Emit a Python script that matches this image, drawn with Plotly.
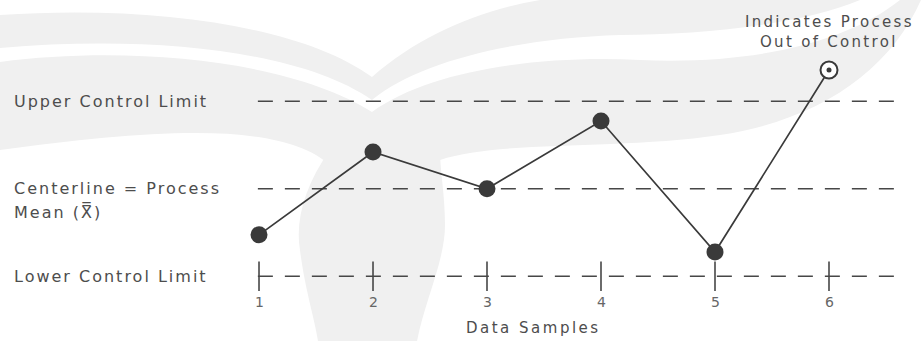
import plotly.graph_objects as go

# ---------------- data ----------------
samples = [1, 2, 3, 4, 5, 6]
sample_labels = ["1", "2", "3", "4", "5", "6"]
sample_means = [8.42, 11.26, 10.0, 12.32, 7.83, 14.07]

ucl = 13.0
center_line = 10.0
lcl = 7.0
limit_values = [ucl, center_line, lcl]
limit_labels = ["Upper Control Limit",
                "Centerline = Process<br>Mean (X\u033f)",
                "Lower Control Limit"]
x_title = "Data Samples"
out_note = "Indicates Process<br>Out of Control"

# ---------------- style ----------------
W, H = 921, 341
INK = "#3a3a3a"
DASH = "#474747"
TXT = "#4d4d4d"
FONT = "DejaVu Sans"
WM = "#f0f0f0"

line_x0, line_x1 = 0.99, 6.67        # extent of the dashed limit lines (axis units)


def spaced(text, px):
    return f'<span style="letter-spacing:{px}px">{text}</span>'


fig = go.Figure()

# watermark (background decoration, pixel coords -> paper coords)
def path(cmds):
    out = []
    for c, pts in cmds:
        if c == "Z":
            out.append("Z")
            continue
        coords = " ".join(f"{x / W:.4f},{1 - y / H:.4f}" for x, y in pts)
        out.append(f"{c} {coords}")
    return " ".join(out)

wm_upper = path([
    ("M", [(0, 15)]),
    ("C", [(150, 5), (300, 25), (372, 77)]),
    ("C", [(420, 35), (480, 10), (540, 0)]),
    ("L", [(860, 0)]),
    ("C", [(800, 25), (700, 35), (620, 35)]),
    ("C", [(520, 38), (420, 60), (372, 100)]),
    ("C", [(300, 50), (150, 35), (0, 48)]),
    ("Z", []),
])
wm_lower = path([
    ("M", [(0, 62)]),
    ("C", [(130, 45), (290, 60), (372, 112)]),
    ("C", [(430, 70), (540, 55), (640, 60)]),
    ("C", [(760, 65), (850, 40), (900, 0)]),
    ("L", [(921, 0), (921, 20)]),
    ("C", [(890, 70), (820, 120), (720, 135)]),
    ("C", [(620, 150), (500, 140), (440, 160)]),
    ("L", [(330, 165)]),
    ("C", [(280, 120), (150, 130), (0, 150)]),
    ("Z", []),
])
wm_bulb = path([
    ("M", [(330, 150)]),
    ("C", [(305, 185), (295, 220), (300, 250)]),
    ("C", [(305, 290), (315, 320), (318, 341)]),
    ("L", [(417, 341)]),
    ("C", [(425, 300), (445, 260), (445, 225)]),
    ("C", [(445, 195), (440, 170), (440, 150)]),
    ("Z", []),
])
for p in (wm_upper, wm_lower, wm_bulb):
    fig.add_shape(type="path", path=p, xref="paper", yref="paper",
                  fillcolor=WM, line=dict(width=0), layer="below")

# dashed limit lines
for v in limit_values:
    fig.add_trace(go.Scatter(x=[line_x0, line_x1], y=[v, v], mode="lines",
                             line=dict(color=DASH, width=1.6, dash="15px,12px"),
                             hoverinfo="skip", showlegend=False))

# tick crosses on the lower control limit
fig.add_trace(go.Scatter(x=samples, y=[lcl] * len(samples), mode="markers",
                         marker=dict(symbol="line-ns", size=21,
                                     line=dict(color=DASH, width=1.6)),
                         hoverinfo="skip", showlegend=False))

# data line
fig.add_trace(go.Scatter(x=samples, y=sample_means, mode="lines",
                         line=dict(color=INK, width=1.7),
                         hoverinfo="skip", showlegend=False))

in_x = [x for x, v in zip(samples, sample_means) if lcl <= v <= ucl]
in_y = [v for v in sample_means if lcl <= v <= ucl]
out_x = [x for x, v in zip(samples, sample_means) if not (lcl <= v <= ucl)]
out_y = [v for v in sample_means if not (lcl <= v <= ucl)]

fig.add_trace(go.Scatter(x=in_x, y=in_y, mode="markers",
                         marker=dict(size=17, color=INK, line=dict(width=0)),
                         showlegend=False))
fig.add_trace(go.Scatter(x=out_x, y=out_y, mode="markers",
                         marker=dict(size=17, color="white",
                                     line=dict(color=INK, width=2)),
                         showlegend=False))
fig.add_trace(go.Scatter(x=out_x, y=out_y, mode="markers",
                         marker=dict(size=5, color=INK, line=dict(width=0)),
                         showlegend=False))

annotations = []
# left labels (multi-line labels get a wider line pitch)
for v, t in zip(limit_values, limit_labels):
    for i, part in enumerate(t.split("<br>")):
        annotations.append(dict(x=12 / W, xref="paper", xanchor="left",
                                y=v, yref="y", yanchor="middle",
                                yshift=-23 * i,
                                text=spaced(part, 2), showarrow=False,
                                align="left",
                                font=dict(family=FONT, size=16, color=TXT)))
# tick labels
for x, t in zip(samples, sample_labels):
    annotations.append(dict(x=x, y=lcl, xref="x", yref="y", text=t,
                            showarrow=False, yshift=-26,
                            font=dict(family=FONT, size=14, color="#666666")))
# axis title
annotations.append(dict(x=533 / W, xref="paper", y=lcl, yref="y",
                        yshift=-52, text=spaced(x_title, 2.5), showarrow=False,
                        font=dict(family=FONT, size=15, color=TXT)))
# out-of-control note
for x, v in zip(out_x, out_y):
    for i, part in enumerate(out_note.split("<br>")):
        annotations.append(dict(x=x, y=v, xref="x", yref="y",
                                text=spaced(part, 2.3),
                                showarrow=False, yanchor="middle",
                                yshift=48 - 20 * i, align="center",
                                font=dict(family=FONT, size=15, color=TXT)))

fig.update_layout(
    width=W, height=H,
    margin=dict(l=0, r=0, t=0, b=0),
    paper_bgcolor="white", plot_bgcolor="rgba(0,0,0,0)",
    xaxis=dict(range=[-1.272, 6.807], visible=False, fixedrange=True),
    yaxis=dict(range=[4.78, 16.47], visible=False, fixedrange=True),
    annotations=annotations,
    showlegend=False,
    hovermode=False,
)

fig.write_html("out.html",
               config={"displayModeBar": False, "staticPlot": True},
               post_script="document.body.style.margin='0px';")
